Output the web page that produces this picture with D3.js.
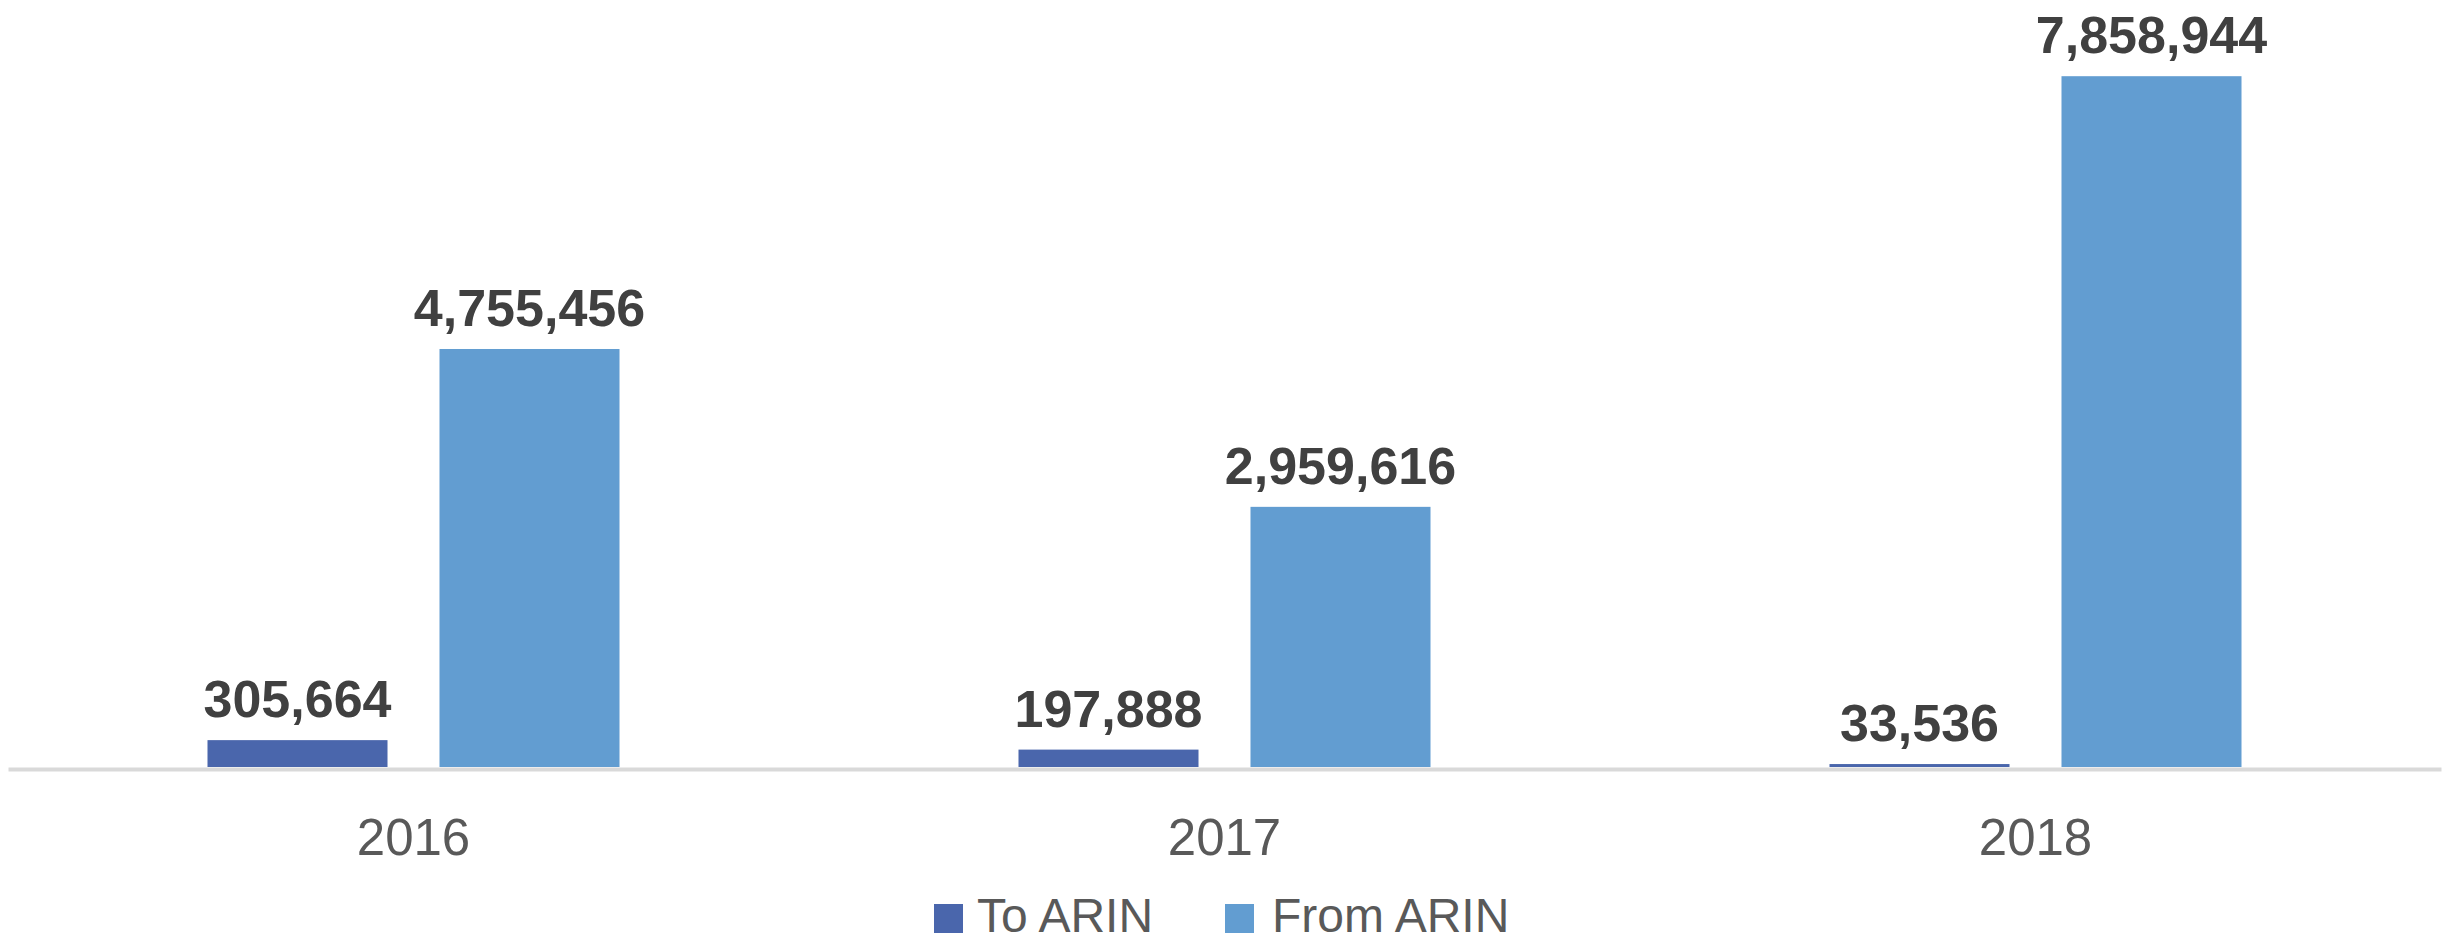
<!DOCTYPE html>
<html>
<head>
<meta charset="utf-8">
<script src="https://cdn.jsdelivr.net/npm/d3@7"></script>
<style>
  html, body { margin: 0; padding: 0; background: #ffffff; }
  svg { display: block; }
</style>
</head>
<body>
<svg id="chart" width="2455" height="944"></svg>
<script>
const categories = ["2016", "2017", "2018"];
const seriesNames = ["To ARIN", "From ARIN"];
const toArin = [305664, 197888, 33536];
const fromArin = [4755456, 2959616, 7858944];
const seriesColors = ["#4A66AC", "#629DD1"];

const svg = d3.select("#chart");
const plotLeft = 8, plotRight = 2441, baseY = 767;

const data = categories.map((c, i) => ({ cat: c, values: [toArin[i], fromArin[i]] }));

const x0 = d3.scaleBand().domain(categories).range([plotLeft, plotRight]).paddingInner(0).paddingOuter(0);
const x1 = d3.scaleBand().domain(seriesNames).range([0, x0.bandwidth()]).paddingInner(0.2241).paddingOuter(0.8599);
const y = d3.scaleLinear().domain([0, 8000000]).range([baseY, baseY - 703.2]);
const fmt = d3.format(",");

const groups = svg.append("g").selectAll("g")
  .data(data).join("g")
  .attr("transform", d => `translate(${x0(d.cat)},0)`);

groups.selectAll("rect")
  .data(d => d.values.map((v, j) => ({ name: seriesNames[j], v, j })))
  .join("rect")
  .attr("x", d => x1(d.name))
  .attr("width", x1.bandwidth())
  .attr("y", d => y(d.v))
  .attr("height", d => baseY - y(d.v))
  .attr("fill", d => seriesColors[d.j]);

groups.selectAll("text.lbl")
  .data(d => d.values.map((v, j) => ({ name: seriesNames[j], v, j })))
  .join("text")
  .attr("class", "lbl")
  .attr("x", d => x1(d.name) + x1.bandwidth() / 2)
  .attr("y", d => y(d.v) - 23)
  .attr("text-anchor", "middle")
  .attr("font-family", "'Liberation Sans', Arial, sans-serif")
  .attr("font-weight", "bold")
  .attr("font-size", 52)
  .attr("fill", "#404040")
  .text(d => fmt(d.v));

// axis
const xAxis = d3.axisBottom(x0).tickSize(0).tickPadding(0);
const ax = svg.append("g").attr("transform", `translate(0,${baseY + 2})`).call(xAxis);
ax.select(".domain").attr("stroke", "#d9d9d9").attr("stroke-width", 4);
ax.selectAll(".tick text")
  .attr("y", 86)
  .attr("dy", 0)
  .attr("font-family", "'Liberation Sans', Arial, sans-serif")
  .attr("font-size", 51)
  .attr("fill", "#595959");

// legend
const legendItems = [
  { name: seriesNames[0], color: seriesColors[0], sx: 934, tx: 977 },
  { name: seriesNames[1], color: seriesColors[1], sx: 1225, tx: 1272 }
];
const lg = svg.append("g");
lg.selectAll("rect").data(legendItems).join("rect")
  .attr("x", d => d.sx).attr("y", 904).attr("width", 29).attr("height", 29)
  .attr("fill", d => d.color);
lg.selectAll("text").data(legendItems).join("text")
  .attr("x", d => d.tx).attr("y", 932)
  .attr("font-family", "'Liberation Sans', Arial, sans-serif")
  .attr("font-size", 48)
  .attr("fill", "#595959")
  .text(d => d.name);
</script>
</body>
</html>
